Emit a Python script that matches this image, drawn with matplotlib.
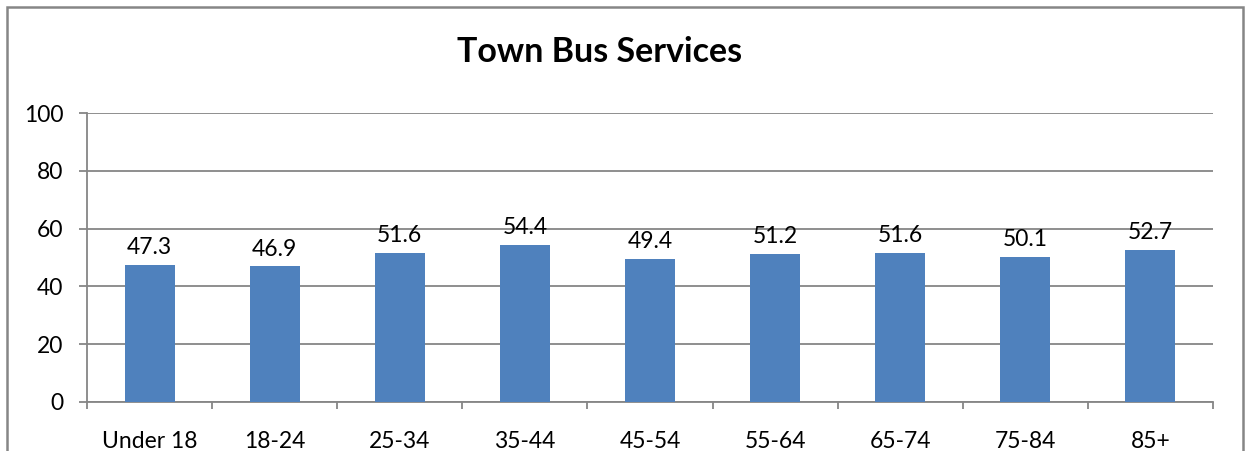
import matplotlib
matplotlib.use('Agg')
import matplotlib.pyplot as plt
from matplotlib.patches import Rectangle
import numpy as np

# data
categories = ['Under 18', '18-24', '25-34', '35-44', '45-54', '55-64', '65-74', '75-84', '85+']
values = [47.3, 46.9, 51.6, 54.4, 49.4, 51.2, 51.6, 50.1, 52.7]
y_ticks = [0, 20, 40, 60, 80, 100]

plt.rcParams['font.family'] = ['Lato', 'DejaVu Sans']

W, H = 1250, 451
fig = plt.figure(figsize=(W / 100, H / 100), dpi=100)
ax = fig.add_axes([87 / W, (H - 402) / H, (1213 - 87) / W, (402 - 113) / H])

grey = '#868686'
x = np.arange(len(categories))
bars = ax.bar(x, values, width=0.4, color='#4F81BD', zorder=3)

# value labels above bars
for xi, v in zip(x, values):
    ax.annotate(f'{v}', (xi, v), xytext=(0, 5), textcoords='offset points',
                ha='center', va='bottom', fontsize=16.5)

ax.set_xlim(-0.5, len(categories) - 0.5)
ax.set_ylim(0, 100)
ax.set_yticks(y_ticks)
ax.yaxis.grid(True, color=grey, linewidth=1.3, zorder=0)
ax.tick_params(axis='y', length=6, width=1.3, color=grey, pad=11, labelsize=16.5)

ax.set_xticks(x)
ax.set_xticklabels(categories)
ax.set_xticks(np.arange(len(categories) + 1) - 0.5, minor=True)
ax.tick_params(axis='x', which='major', length=0, pad=21, labelsize=16.5)
ax.tick_params(axis='x', which='minor', length=5, width=1.3, color=grey)

for side in ['top', 'right']:
    ax.spines[side].set_visible(False)
for side in ['left', 'bottom']:
    ax.spines[side].set_color(grey)
    ax.spines[side].set_linewidth(1.3)

fig.text(600 / W, 1 - 52 / H, 'Town Bus Services', ha='center', va='center',
         fontsize=24.5, fontweight='bold')

# outer chart border (bottom edge falls below the image)
fig.patches.append(Rectangle((7 / W, -0.1), (1243 - 7) / W, 1.1 - 7 / H,
                             transform=fig.transFigure, fill=False,
                             edgecolor=grey, linewidth=1.8))

fig.savefig('out.png', dpi=100)
